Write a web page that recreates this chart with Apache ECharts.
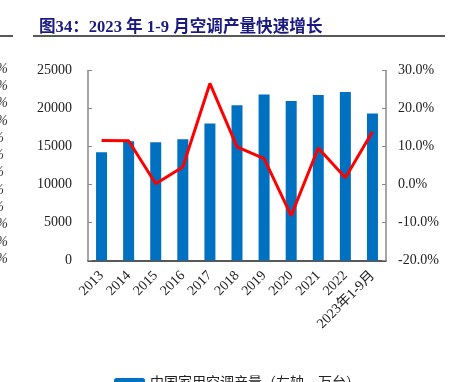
<!DOCTYPE html>
<html>
<head>
<meta charset="utf-8">
<script src="https://cdn.jsdelivr.net/npm/echarts@6/dist/echarts.min.js"></script>
<style>
  html, body { margin: 0; padding: 0; background: #fff; }
  #main { width: 450px; height: 382px; }
</style>
</head>
<body>
<div id="main"></div>
<script>
// 类目（年份）
var categories = ['2013', '2014', '2015', '2016', '2017', '2018', '2019', '2020', '2021', '2022', '2023年1-9月'];
// 中国家用空调产量（左轴，万台）
var output = [14250, 15700, 15570, 15960, 18030, 20430, 21840, 21000, 21790, 22180, 19340];
// 同比（右轴，%）
var growth = [11.6, 11.5, 0.2, 4.6, 26.6, 9.9, 6.8, -8.2, 9.6, 1.8, 13.9];
// 左侧邻图残留的刻度标签
var sideLabels = ['%', '%', '%', '%', '%', '%', '%', '%', '%', '%', '%', '%'];

var serif = '"Liberation Serif", "Noto Sans CJK SC", serif';

var myChart = echarts.init(document.getElementById('main'));

var graphics = [
	{ type: 'line', shape: { x1: 33, y1: 36, x2: 445, y2: 36 }, style: { stroke: '#222', lineWidth: 1.5 } },
	{ type: 'line', shape: { x1: 0, y1: 36, x2: 13, y2: 36 }, style: { stroke: '#222', lineWidth: 1.5 } }
];
for (var i = 0; i < sideLabels.length; i++) {
	var shift = (i >= 4 && i <= 8) ? 4 : 8;
	graphics.push({
		type: 'text',
		x: shift, y: 69 + i * 17.3,
		style: { text: sideLabels[i], font: 'italic 14px ' + serif, fill: '#333', align: 'right', verticalAlign: 'middle' }
	});
}

var option = {
	animation: false,
	title: {
		text: '图34：2023 年 1-9 月空调产量快速增长',
		left: 34,
		top: 14,
		textStyle: { color: '#1a1a80', fontWeight: 'bold', fontSize: 16.6, fontFamily: serif }
	},
	graphic: graphics,
	legend: {
		data: ['中国家用空调产量（左轴，万台）'],
		left: 109,
		top: 371,
		itemWidth: 31,
		itemHeight: 10,
		textStyle: { fontSize: 14, color: '#222', fontFamily: serif }
	},
	grid: { left: 88, right: 64, top: 70.5, bottom: 121.5 },
	xAxis: {
		type: 'category',
		data: categories,
		axisLine: { lineStyle: { color: '#222', width: 1.5 } },
		axisTick: { inside: true, length: 5, lineStyle: { color: '#888' } },
		axisLabel: { rotate: 45, interval: 0, fontSize: 14, color: '#222', fontFamily: serif, margin: 13 }
	},
	yAxis: [
		{
			type: 'value',
			min: 0, max: 25000, interval: 5000,
			axisLine: { show: true, lineStyle: { color: '#888', width: 1.5 } },
			axisTick: { show: true, inside: true, length: 4, lineStyle: { color: '#888' } },
			splitLine: { show: false },
			axisLabel: {
				fontSize: 14, color: '#222', fontFamily: serif, margin: 16,
				formatter: function (v) { return String(v); }
			}
		},
		{
			type: 'value',
			min: -20, max: 30, interval: 10,
			axisLine: { show: true, lineStyle: { color: '#888', width: 1.5 } },
			axisTick: { show: true, inside: true, length: 4, lineStyle: { color: '#888' } },
			splitLine: { show: false },
			axisLabel: {
				fontSize: 14, color: '#222', fontFamily: serif, margin: 12,
				formatter: function (v) { return v.toFixed(1) + '%'; }
			}
		}
	],
	series: [
		{
			name: '中国家用空调产量（左轴，万台）',
			type: 'bar',
			data: output,
			barWidth: 11,
			itemStyle: { color: '#0070C0' }
		},
		{
			name: '同比（右轴）',
			type: 'line',
			yAxisIndex: 1,
			data: growth,
			symbol: 'none',
			lineStyle: { color: '#FF0000', width: 3 },
			itemStyle: { color: '#FF0000' }
		}
	]
};
myChart.setOption(option);
</script>
</body>
</html>
